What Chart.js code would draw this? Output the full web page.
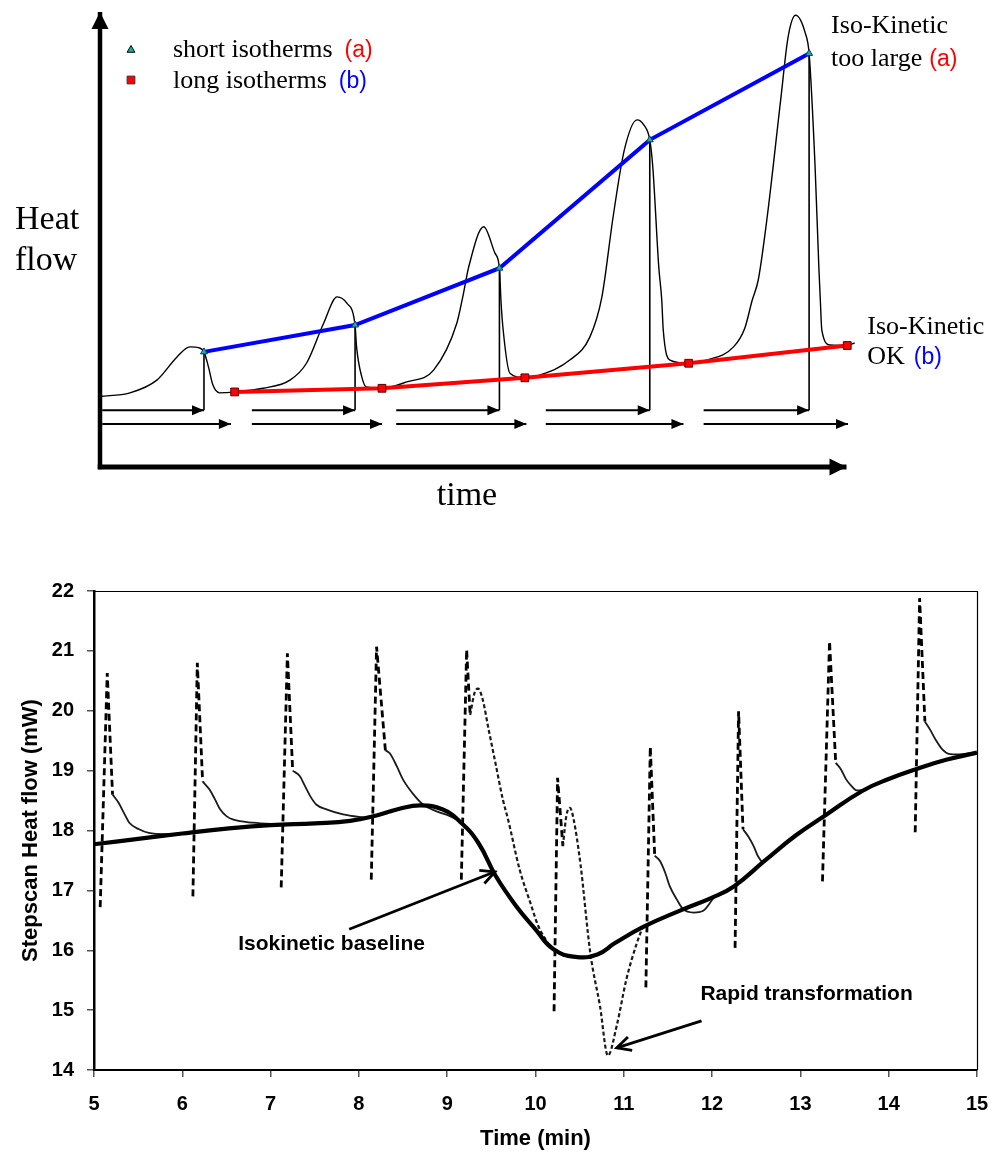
<!DOCTYPE html>
<html>
<head>
<meta charset="utf-8">
<script src="https://cdn.jsdelivr.net/npm/chart.js@4.4.1/dist/chart.umd.min.js"></script>
<style>
  html, body { margin: 0; padding: 0; background: #fff; }
  #wrap { position: relative; width: 997px; height: 1154px; }
  #top { position: absolute; left: 0; top: 0; }
  #bottom { position: absolute; left: 0; top: 560px; }
</style>
</head>
<body>
<div id="wrap">
  <canvas id="top" width="997" height="520"></canvas>
  <canvas id="bottom" width="997" height="594"></canvas>
</div>
<script>
const serif = '"Liberation Serif", "Times New Roman", serif';
const sans = '"Liberation Sans", Arial, Helvetica, sans-serif';

// ---- top schematic (arbitrary time / heat flow units) ----
const curveTime = [0.00,0.40,0.76,1.03,1.20,1.34,1.39,1.45,1.51,1.60,1.80,2.18,2.54,2.76,2.99,3.17,3.30,3.41,3.43,3.50,3.56,3.77,4.10,4.46,4.77,4.85,4.93,5.13,5.28,5.34,5.36,5.39,5.48,5.68,5.88,6.28,6.55,6.71,6.86,7.01,7.18,7.27,7.35,7.39,7.47,7.51,7.53,7.62,7.87,8.11,8.47,8.62,8.72,8.80,8.92,9.10,9.20,9.30,9.43,9.48,9.56,9.61,9.63,9.65,9.76,9.99,10.09];
const curveHeat = [1.55,1.63,1.91,2.42,2.64,2.61,2.53,2.20,1.80,1.63,1.65,1.73,1.91,2.28,3.16,3.74,3.60,3.12,2.64,1.98,1.76,1.73,1.87,2.13,3.16,3.74,4.40,5.28,4.70,4.37,3.67,3.01,2.06,1.96,2.02,2.35,2.86,3.74,5.50,6.97,7.63,7.52,7.19,6.60,4.40,3.67,3.01,2.35,2.28,2.35,2.64,3.05,3.67,4.11,5.50,8.07,9.46,9.93,9.53,9.09,6.60,4.40,3.67,3.01,2.68,2.67,2.73];

// short isotherms (a) - triangles, long isotherms (b) - squares
const shortTime = [1.39, 3.41, 5.34, 7.35, 9.48];
const shortHeat = [2.53, 3.12, 4.37, 7.19, 9.09];
const longTime = [1.80, 3.77, 5.68, 7.87, 9.99];
const longHeat = [1.65, 1.73, 1.96, 2.28, 2.67];

// step arrows under the curve
const stepStart = [0.03, 2.03, 3.96, 5.96, 8.07];
const longStepEnd = [1.75, 3.77, 5.70, 7.80, 10.0];
const shortRow = 1.25;
const longRow = 0.945;

// ---- bottom chart: stepscan data ----
const baseTime = [5.0,5.5,6.0,6.5,7.0,7.5,7.9,8.2,8.45,8.7,8.95,9.15,9.35,9.55,9.78,10.0,10.2,10.45,10.7,10.9,11.22,11.65,12.0,12.25,12.6,12.95,13.28,13.7,14.0,14.3,14.65,15.0];
const baseFlow = [17.77,17.86,17.95,18.03,18.09,18.12,18.16,18.25,18.36,18.42,18.35,18.14,17.8,17.24,16.74,16.35,16.02,15.89,15.93,16.12,16.39,16.67,16.88,17.07,17.5,17.92,18.25,18.66,18.86,19.02,19.18,19.3];

// fast parts of each step (dashed)
const spikeTimes = [[5.07,5.15,5.21],[6.12,6.17,6.23],[7.12,7.19,7.25],[8.14,8.20,8.30],[9.16,9.22,9.26],[10.21,10.25,10.31],[11.25,11.30,11.35],[12.26,12.30,12.35],[13.25,13.33,13.40],[14.30,14.35,14.41]];
const spikeFlows = [[16.72,20.63,18.6],[16.9,20.8,18.82],[17.05,20.96,19.0],[17.18,21.07,19.34],[17.18,21.02,19.93],[14.98,18.88,17.74],[15.38,19.4,17.58],[16.04,19.99,18.02],[17.15,21.16,19.13],[17.97,21.88,19.82]];

// isothermal relaxation after each step (thin solid)
const tailTimes = [
  [5.21,5.28,5.34,5.40,5.51,5.62,5.81,6.04],
  [6.23,6.31,6.37,6.43,6.50,6.58,6.80,7.11],
  [7.25,7.33,7.39,7.45,7.52,7.64,7.82,8.09],
  [8.30,8.35,8.43,8.50,8.62,8.73,8.88,9.03,9.16],
  [11.35,11.41,11.47,11.52,11.60,11.67,11.79,11.90,12.01],
  [12.35,12.41,12.47,12.52,12.58,12.65],
  [13.40,13.46,13.52,13.58,13.64,13.72],
  [14.41,14.47,14.53,14.61,14.68,14.80,14.92]
];
const tailFlows = [
  [18.6,18.46,18.29,18.13,18.02,17.96,17.94,17.95],
  [18.82,18.68,18.52,18.35,18.24,18.18,18.13,18.1],
  [19.0,18.91,18.74,18.57,18.43,18.35,18.27,18.21],
  [19.34,19.29,19.07,18.85,18.6,18.43,18.32,18.24,18.14],
  [17.58,17.49,17.29,17.07,16.85,16.69,16.63,16.66,16.86],
  [18.02,17.9,17.74,17.57,17.47,17.55],
  [19.13,19.02,18.85,18.74,18.67,18.68],
  [19.82,19.68,19.52,19.35,19.28,19.27,19.29]
];

// transformation around 9-11 min (fine dashes)
const transTimes = [
  [9.26,9.31,9.35,9.40,9.47,9.55,9.63,9.69,9.82,9.94,10.03,10.16],
  [10.31,10.35,10.39,10.43,10.51,10.62,10.73,10.82,10.92,11.03,11.15,11.22]
];
const transFlows = [
  [19.93,20.3,20.37,20.2,19.68,19.1,18.52,18.18,17.35,16.8,16.41,16.07],
  [17.74,18.25,18.38,18.2,17.43,15.96,15.07,14.24,14.74,15.52,16.13,16.41]
];

const noteText = ['Isokinetic baseline', 'Rapid transformation'];
const noteTime = [7.69, 13.07];
const noteFlow = [16.10, 15.27];
const pointerFrom = [[7.89, 16.35], [11.88, 14.82]];
const pointerTo = [[9.54, 17.31], [10.92, 14.37]];

// helpers
const pts = (xs, ys) => xs.map((x, i) => ({x: x, y: ys[i]}));
function runs(timeGroups, flowGroups) {
  const out = [];
  timeGroups.forEach((ts, g) => {
    if (g > 0) out.push({x: ts[0], y: null});
    ts.forEach((t, i) => out.push({x: t, y: flowGroups[g][i]}));
  });
  return out;
}

// draws an arrow head at the last point of datasets that have a "head"
const arrowHeads = {
  id: 'arrowHeads',
  afterDatasetsDraw(chart) {
    const ctx = chart.ctx;
    chart.data.datasets.forEach((ds, i) => {
      if (!ds.head) return;
      const els = chart.getDatasetMeta(i).data;
      const a = els[els.length - 2], b = els[els.length - 1];
      const ang = Math.atan2(b.y - a.y, b.x - a.x);
      ctx.save();
      ctx.translate(b.x, b.y);
      ctx.rotate(ang);
      ctx.beginPath();
      ctx.moveTo(-ds.head.len, -ds.head.half);
      ctx.lineTo(0, 0);
      ctx.lineTo(-ds.head.len, ds.head.half);
      if (ds.head.open) {
        ctx.strokeStyle = ds.borderColor;
        ctx.lineWidth = ds.borderWidth;
        ctx.lineJoin = 'miter';
        ctx.stroke();
      } else {
        ctx.closePath();
        ctx.fillStyle = ds.borderColor;
        ctx.fill();
      }
      ctx.restore();
    });
  }
};

function textRuns(ctx, x, y, parts) {
  parts.forEach(p => {
    x += p.gap || 0;
    ctx.font = p.font;
    ctx.fillStyle = p.color || '#000';
    ctx.fillText(p.text, x, y);
    x += ctx.measureText(p.text).width;
  });
}

const topLabels = {
  id: 'topLabels',
  afterDraw(chart) {
    const {ctx, scales: {x, y}} = chart;
    const big = '34px ' + serif, mid = '26px ' + serif, tag = '23px ' + sans;
    ctx.save();
    ctx.textBaseline = 'alphabetic';
    ctx.textAlign = 'left';
    ctx.fillStyle = '#000';
    ctx.font = big;
    ctx.fillText('Heat', 15, 229);
    ctx.fillText('flow', 15, 270);
    ctx.textAlign = 'center';
    ctx.fillText('time', 467, 505);
    ctx.textAlign = 'left';

    // legend
    ctx.fillStyle = '#19b394'; ctx.strokeStyle = '#000';
    Chart.helpers.drawPoint(ctx, {pointStyle: 'triangle', radius: 4.5, borderWidth: 1}, 131, 50);
    ctx.fillStyle = '#ff0000'; ctx.strokeStyle = '#333';
    Chart.helpers.drawPoint(ctx, {pointStyle: 'rect', radius: 5.5, borderWidth: 1}, 131, 80);
    textRuns(ctx, 173, 57, [{text: 'short isotherms', font: mid}, {text: '(a)', font: tag, color: '#ff0000', gap: 12}]);
    textRuns(ctx, 173, 88, [{text: 'long isotherms', font: mid}, {text: '(b)', font: tag, color: '#0000ff', gap: 12}]);

    // end labels next to the last points
    const ax = x.getPixelForValue(shortTime[4]), ay = y.getPixelForValue(shortHeat[4]);
    textRuns(ctx, ax + 22, ay - 20, [{text: 'Iso-Kinetic', font: mid}]);
    textRuns(ctx, ax + 22, ay + 13, [{text: 'too large', font: mid}, {text: '(a)', font: tag, color: '#ff0000', gap: 7}]);
    const bx = x.getPixelForValue(longTime[4]), by = y.getPixelForValue(longHeat[4]);
    textRuns(ctx, bx + 20, by - 12, [{text: 'Iso-Kinetic', font: mid}]);
    textRuns(ctx, bx + 20, by + 18, [{text: 'OK', font: mid}, {text: '(b)', font: tag, color: '#0000ff', gap: 9}]);
    ctx.restore();
  }
};

const topSets = [
  {data: pts(shortTime, shortHeat), borderColor: '#0000ff', borderWidth: 4,
   pointStyle: 'triangle', pointRadius: 4, pointBackgroundColor: '#19b394', pointBorderColor: '#0b3d6b', pointBorderWidth: 1},
  {data: pts(longTime, longHeat), borderColor: '#ff0000', borderWidth: 4,
   pointStyle: 'rect', pointRadius: 5.5, pointBackgroundColor: '#ff0000', pointBorderColor: '#5a0000', pointBorderWidth: 1},
  {data: pts(curveTime, curveHeat), borderColor: '#000', borderWidth: 1.4, cubicInterpolationMode: 'monotone'}
];
stepStart.forEach((s, i) => {
  topSets.push({data: [{x: s, y: shortRow}, {x: shortTime[i], y: shortRow}], borderColor: '#000', borderWidth: 2, head: {len: 12, half: 5}});
  topSets.push({data: [{x: shortTime[i], y: shortRow}, {x: shortTime[i], y: shortHeat[i]}], borderColor: '#000', borderWidth: 1.6});
  topSets.push({data: [{x: s, y: longRow}, {x: longStepEnd[i], y: longRow}], borderColor: '#000', borderWidth: 2, head: {len: 12, half: 5}});
});
topSets.push({data: [{x: 0, y: -0.05}, {x: 0, y: 10}], borderColor: '#000', borderWidth: 4.5, head: {len: 17, half: 8.5}});
topSets.push({data: [{x: -0.03, y: 0}, {x: 9.98, y: 0}], borderColor: '#000', borderWidth: 5, head: {len: 17, half: 8.5}});
topSets.forEach(d => { d.clip = false; d.pointRadius = d.pointRadius || 0; });

new Chart(document.getElementById('top'), {
  type: 'line',
  data: {datasets: topSets},
  options: {
    responsive: false,
    animation: false,
    events: [],
    layout: {padding: {left: 100, right: 149, top: 12, bottom: 53}},
    scales: {
      x: {type: 'linear', min: 0, max: 10, display: false},
      y: {type: 'linear', min: 0, max: 10, display: false}
    },
    plugins: {legend: {display: false}, tooltip: {enabled: false}}
  },
  plugins: [arrowHeads, topLabels]
});

// ---- bottom chart ----
const bottomExtras = {
  id: 'bottomExtras',
  afterDraw(chart) {
    const {ctx, chartArea: a, scales: {x, y}} = chart;
    ctx.save();
    ctx.strokeStyle = '#000';
    ctx.lineWidth = 1.2;
    ctx.beginPath();
    ctx.moveTo(a.left, a.top + 0.5);
    ctx.lineTo(a.right + 0.5, a.top + 0.5);
    ctx.lineTo(a.right + 0.5, a.bottom);
    ctx.stroke();
    ctx.font = 'bold 21px ' + sans;
    ctx.textAlign = 'center';
    ctx.textBaseline = 'middle';
    ctx.fillStyle = '#000';
    noteText.forEach((t, i) => ctx.fillText(t, x.getPixelForValue(noteTime[i]), y.getPixelForValue(noteFlow[i])));
    ctx.restore();
  }
};

const bottomSets = [
  {data: pts(baseTime, baseFlow), borderColor: '#000', borderWidth: 4.2, tension: 0.45},
  {data: runs(tailTimes, tailFlows), borderColor: '#1a1a1a', borderWidth: 1.8, cubicInterpolationMode: 'monotone'},
  {data: runs(transTimes, transFlows), borderColor: '#1a1a1a', borderWidth: 2.2, borderDash: [4, 2.5], cubicInterpolationMode: 'monotone'},
  {data: runs(spikeTimes, spikeFlows), borderColor: '#000', borderWidth: 2.8, borderDash: [7, 4]}
];
pointerFrom.forEach((p, i) => {
  bottomSets.push({data: [{x: p[0], y: p[1]}, {x: pointerTo[i][0], y: pointerTo[i][1]}],
    borderColor: '#000', borderWidth: 2.8, head: {len: 14, half: 7, open: true}});
});
bottomSets.forEach(d => { d.pointRadius = 0; d.clip = false; });

const tickFont = {family: sans, size: 20, weight: 'bold'};
const titleFont = {family: sans, size: 22, weight: 'bold'};

new Chart(document.getElementById('bottom'), {
  type: 'line',
  data: {datasets: bottomSets},
  options: {
    responsive: false,
    animation: false,
    events: [],
    spanGaps: false,
    layout: {padding: {left: 0, right: 20, top: 31, bottom: 0}},
    scales: {
      x: {
        type: 'linear', min: 5, max: 15,
        ticks: {stepSize: 1, color: '#000', font: tickFont, padding: 15},
        grid: {drawOnChartArea: false, tickLength: 7, color: '#555', lineWidth: 1.5},
        border: {color: '#000', width: 2},
        title: {display: true, text: 'Time (min)', color: '#000', font: titleFont, padding: {top: 0, bottom: 2}},
        afterFit(s) { s.height = 84; s.paddingLeft = 0; s.paddingRight = 0; }
      },
      y: {
        type: 'linear', min: 14, max: 22,
        ticks: {stepSize: 1, color: '#000', font: tickFont, padding: 13},
        grid: {drawOnChartArea: false, tickLength: 7, color: '#555', lineWidth: 1.5},
        border: {color: '#000', width: 2.5},
        title: {display: true, text: 'Stepscan Heat flow (mW)', color: '#000', font: titleFont, padding: {top: 18, bottom: 0}},
        afterFit(s) { s.width = 94; }
      }
    },
    plugins: {legend: {display: false}, tooltip: {enabled: false}}
  },
  plugins: [arrowHeads, bottomExtras]
});
</script>
</body>
</html>
